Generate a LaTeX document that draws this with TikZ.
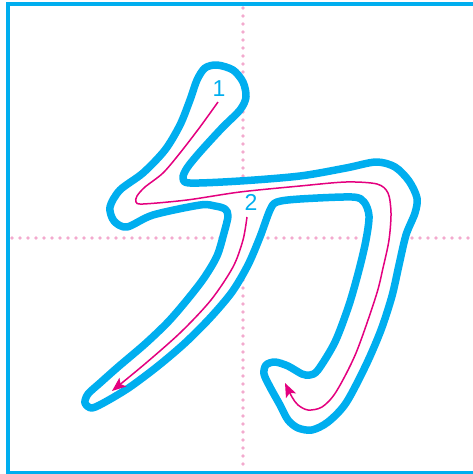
\documentclass[tikz,border=0pt]{standalone}
\usepackage{fontspec}
\newfontfamily\digitfont{Liberation Sans}
\usetikzlibrary{arrows.meta}
\definecolor{kcyan}{RGB}{0,174,239}
\definecolor{kpink}{RGB}{228,0,127}
\definecolor{kdot}{RGB}{243,170,206}
\tikzset{
  frameline/.style={draw=kcyan, line width=4pt},
  guideline/.style={draw=kdot, line width=3.6pt, line cap=round, dash pattern=on 0pt off 8pt},
  outlinestroke/.style={draw=kcyan, fill=white, line width=7.5pt, line join=round},
  pathstroke/.style={draw=kpink, line width=1.5pt, -{Stealth[length=14pt,width=11pt,inset=3pt]}},
  numlabel/.style={text=kcyan, font=\digitfont\fontsize{23}{23}\selectfont, inner sep=0pt}
}
\begin{document}
\begin{tikzpicture}[x=1pt,y=-1pt]
\useasboundingbox (0,0) rectangle (473,474);
\begin{scope}
\clip (0,0) rectangle (473,474);
% guides
\draw[guideline] (243,8) -- (243,470);
\draw[guideline] (12,238) -- (473,238);
% frame
\draw[frameline] (490,4) -- (8.3,4) -- (8.3,472.5) -- (490,472.5);
\end{scope}
% outline of the character
\draw[outlinestroke] plot[smooth cycle, tension=0.5] coordinates {
(217,65) (233,70) (243,82) (246,97) (240,110) (222,128) (200,152) (187,168) (183,178) (190,183)
(240,181) (300,176) (346,168) (376,162) (395,167) (409,181) (417,198) (415,213) (406,235)
(399,265) (392,296) (381,330) (366,365) (346,403) (328,422) (312,430) (298,428) (288,420)
(280,405) (270,387) (264,374) (266,365) (275,362) (288,366) (302,374) (310,375) (318,370)
(335,342) (349,305) (359,270) (366,240) (369,216) (364,202) (352,197) (300,199) (277,202)
(270,210) (260,237) (248,265) (232,292) (210,318) (185,343) (158,366) (130,387) (107,401) (92,408)
(85,403) (88,394) (100,383) (118,367) (145,344) (168,322) (187,300) (204,278) (217,256) (224,233)
(228,216) (225,209) (215,206) (200,205) (153,215) (127,227) (114,221) (110,207) (120,190)
(143,173) (165,150) (180,125) (190,100) (197,80) (205,68)};
% stroke paths
\draw[pathstroke] plot[smooth, tension=0.5] coordinates {
(218,102) (200,127) (180,153) (163,173) (145,187) (137,196) (136,202) (143,204) (187,200)
(240,192) (300,186) (346,182) (377,184) (388,193) (391,213) (389,240) (383,268) (376,296)
(356,353) (336,392) (322,407) (308,410) (298,405) (292,397) (285,383)};
\draw[pathstroke] plot[smooth, tension=0.5] coordinates {
(247,217) (243,240) (233,267) (211,300) (181,332) (146,363) (112,391)};
% numbers
\node[numlabel] (n1) at (219,89) {1};
\node[numlabel] (n2) at (251,202) {2};
\end{tikzpicture}
\end{document}
